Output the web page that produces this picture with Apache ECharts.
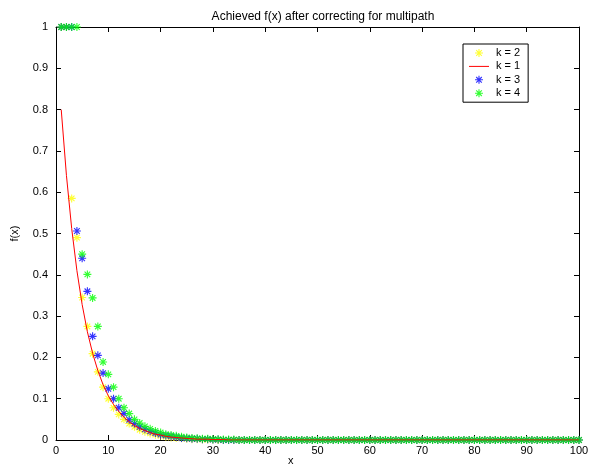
<!DOCTYPE html>
<html>
<head>
<meta charset="utf-8">
<script src="https://cdn.jsdelivr.net/npm/echarts@6/dist/echarts.min.js"></script>
<style>html,body{margin:0;padding:0;background:#fff;}#c{width:593px;height:469px;}</style>
</head>
<body>
<div id="c"></div>
<script>
const titleText = 'Achieved f(x) after correcting for multipath';
const xTicks = [0,10,20,30,40,50,60,70,80,90,100];
const yTicks = [0,0.1,0.2,0.3,0.4,0.5,0.6,0.7,0.8,0.9,1];
const seriesNames = ['k = 2','k = 1','k = 3','k = 4'];

// values at x = 1..100
const k2 = [1,1,0.585,0.49,0.345,0.275,0.209,0.165,0.128,0.1,
  0.078,0.062,0.05,0.04,0.032,0.025,0.02,0.016,0.013,0.01,
  0.008,0.006,0.005,0.004,0.003,0.002,0.002,0.001,0.001,0.001,
  0,0,0,0,0,0,0,0,0,0, 0,0,0,0,0,0,0,0,0,0, 0,0,0,0,0,0,0,0,0,0,
  0,0,0,0,0,0,0,0,0,0, 0,0,0,0,0,0,0,0,0,0, 0,0,0,0,0,0,0,0,0,0, 0,0,0,0,0,0,0,0,0,0];
const k1 = [0.8,0.64,0.512,0.41,0.328,0.262,0.21,0.168,0.134,0.107,
  0.086,0.069,0.055,0.044,0.035,0.028,0.023,0.018,0.014,0.012,
  0.009,0.007,0.006,0.005,0.004,0.003,0.002,0.002,0.002,0.001,
  0.001,0.001,0,0,0,0,0,0,0,0, 0,0,0,0,0,0,0,0,0,0, 0,0,0,0,0,0,0,0,0,0,
  0,0,0,0,0,0,0,0,0,0, 0,0,0,0,0,0,0,0,0,0, 0,0,0,0,0,0,0,0,0,0, 0,0,0,0,0,0,0,0,0,0];
const k3 = [1,1,1,0.506,0.44,0.36,0.251,0.205,0.162,0.124,
  0.1,0.078,0.064,0.049,0.04,0.032,0.026,0.021,0.017,0.013,
  0.011,0.009,0.007,0.005,0.004,0.003,0.003,0.002,0.002,0.001,
  0.001,0,0,0,0,0,0,0,0,0, 0,0,0,0,0,0,0,0,0,0, 0,0,0,0,0,0,0,0,0,0,
  0,0,0,0,0,0,0,0,0,0, 0,0,0,0,0,0,0,0,0,0, 0,0,0,0,0,0,0,0,0,0, 0,0,0,0,0,0,0,0,0,0];
const k4 = [1,1,1,1,0.45,0.401,0.344,0.275,0.189,0.159,
  0.128,0.1,0.078,0.064,0.05,0.041,0.033,0.027,0.022,0.018,
  0.014,0.012,0.01,0.008,0.006,0.005,0.004,0.003,0.003,0.002,
  0.002,0.001,0.001,0.001,0,0,0,0,0,0, 0,0,0,0,0,0,0,0,0,0, 0,0,0,0,0,0,0,0,0,0,
  0,0,0,0,0,0,0,0,0,0, 0,0,0,0,0,0,0,0,0,0, 0,0,0,0,0,0,0,0,0,0, 0,0,0,0,0,0,0,0,0,0];

const xs = k1.map((_, i) => i + 1);
const pairs = arr => arr.map((v, i) => [xs[i], v]);

const star = 'path://M0 8.6L20 8.6L20 11.4L0 11.4Z M8.6 0L11.4 0L11.4 20L8.6 20Z ' +
  'M4 2L18 16L16 18L2 4Z M2 16L16 2L18 4L4 18Z';
const lineIcon = 'path://M0 0L20 0L20 1L0 1Z';

const font = 'Liberation Sans';
const grid = {left: 56, right: 14, top: 27, bottom: 29};
const tickStyle = {show: true, inside: true, length: 5, lineStyle: {color: '#000', width: 1}};
const lineStyle = {show: true, onZero: false, lineStyle: {color: '#000', width: 1}};

const chart = echarts.init(document.getElementById('c'), null, {renderer: 'canvas'});
chart.setOption({
  animation: false,
  backgroundColor: '#fff',
  title: {text: titleText, left: 318, textAlign: 'center', top: 6,
    textStyle: {fontFamily: font, fontSize: 12, fontWeight: 'normal', color: '#000'}},
  grid: grid,
  legend: {
    left: 463, top: 44, orient: 'vertical', padding: [3, 8, 3, 6],
    itemWidth: 20, itemHeight: 8, itemGap: 1.4,
    borderColor: '#000', borderWidth: 1, backgroundColor: '#fff',
    textStyle: {fontFamily: font, fontSize: 11, color: '#000', lineHeight: 12, padding: [0,0,0,2]},
    data: [
      {name: seriesNames[0]},
      {name: seriesNames[1], icon: lineIcon, itemStyle: {color: '#ff0000', borderWidth: 0}},
      {name: seriesNames[2]},
      {name: seriesNames[3]}
    ]
  },
  xAxis: [
    {type: 'value', min: xTicks[0], max: xTicks[xTicks.length-1], interval: 10, position: 'bottom',
     axisLine: lineStyle, axisTick: tickStyle, splitLine: {show: false},
     axisLabel: {fontFamily: font, fontSize: 11, color: '#000', margin: 5}},
    {type: 'value', min: 0, max: 100, interval: 10, position: 'top',
     axisLine: lineStyle, axisTick: tickStyle, splitLine: {show: false}, axisLabel: {show: false}}
  ],
  yAxis: [
    {type: 'value', min: yTicks[0], max: yTicks[yTicks.length-1], interval: 0.1, position: 'left',
     axisLine: lineStyle, axisTick: tickStyle, splitLine: {show: false},
     axisLabel: {fontFamily: font, fontSize: 11, color: '#000', margin: 8,
       formatter: v => String(Math.round(v*10)/10)},
     name: 'f(x)', nameLocation: 'middle', nameGap: 36, nameRotate: 90,
     nameTextStyle: {fontFamily: font, fontSize: 11, color: '#000'}},
    {type: 'value', min: 0, max: 1, interval: 0.1, position: 'right',
     axisLine: lineStyle, axisTick: tickStyle, splitLine: {show: false}, axisLabel: {show: false}}
  ],
  graphic: [{type: 'text', left: 288, top: 455,
    style: {text: 'x', fontFamily: font, fontSize: 11, fill: '#000'}}],
  series: [
    {name: seriesNames[0], type: 'scatter', data: pairs(k2), symbol: star, symbolSize: 8,
     itemStyle: {color: '#ffff00'}},
    {name: seriesNames[1], type: 'line', data: pairs(k1), symbol: 'none', showSymbol: false,
     lineStyle: {color: '#ff0000', width: 1}, itemStyle: {color: '#ff0000'}},
    {name: seriesNames[2], type: 'scatter', data: pairs(k3), symbol: star, symbolSize: 8,
     itemStyle: {color: '#0000ff'}},
    {name: seriesNames[3], type: 'scatter', data: pairs(k4), symbol: star, symbolSize: 8,
     itemStyle: {color: '#00ff00'}}
  ]
});
</script>
</body>
</html>
